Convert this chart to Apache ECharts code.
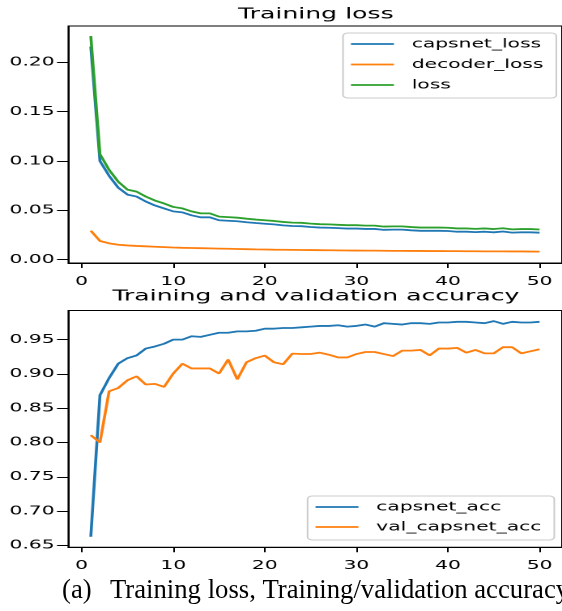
<!DOCTYPE html>
<html>
<head>
<meta charset="utf-8">
<script src="https://cdn.jsdelivr.net/npm/echarts@6/dist/echarts.min.js"></script>
<style>
  html, body { margin: 0; padding: 0; background: #fff; }
  #plots { position: absolute; left: 0; top: 0; width: 347px; height: 611px; transform-origin: 0 0; transform: scaleX(1.6196); }
  #cap { position: absolute; left: 0; top: 0; width: 562px; height: 611px; pointer-events: none; }
</style>
</head>
<body>
<div id="plots"></div>
<div id="cap"></div>
<script>
// ---- data ----
const epochs = [1,2,3,4,5,6,7,8,9,10,11,12,13,14,15,16,17,18,19,20,21,22,23,24,25,26,27,28,29,30,31,32,33,34,35,36,37,38,39,40,41,42,43,44,45,46,47,48,49,50];

const capsnetLoss = [0.216,0.100,0.085,0.073,0.066,0.064,0.059,0.055,0.052,0.049,0.048,0.045,0.043,0.043,0.040,0.0395,0.039,0.038,0.0372,0.0365,0.0358,0.0348,0.0342,0.0340,0.0332,0.0326,0.0324,0.0320,0.0316,0.0316,0.0312,0.0312,0.0303,0.0305,0.0305,0.0298,0.0293,0.0293,0.0293,0.0291,0.0284,0.0284,0.0280,0.0284,0.0278,0.0286,0.0275,0.0278,0.0278,0.0274];
const decoderLoss = [0.0294,0.0190,0.0166,0.0152,0.0145,0.0140,0.0136,0.0132,0.0128,0.0124,0.0121,0.0119,0.0117,0.0115,0.0113,0.0111,0.0109,0.0107,0.0105,0.0104,0.0102,0.0101,0.0100,0.0099,0.0098,0.0097,0.0096,0.0095,0.0094,0.0093,0.0092,0.0092,0.0091,0.0090,0.0090,0.0089,0.0089,0.0088,0.0088,0.0087,0.0087,0.0086,0.0086,0.0085,0.0085,0.0085,0.0084,0.0084,0.0083,0.0082];
const totalLoss = [0.2266,0.107,0.091,0.079,0.071,0.069,0.064,0.060,0.057,0.0535,0.052,0.049,0.047,0.047,0.0437,0.0432,0.0426,0.0416,0.0407,0.0400,0.0393,0.0383,0.0376,0.0374,0.0366,0.0360,0.0358,0.0354,0.0350,0.0350,0.0346,0.0346,0.0336,0.0338,0.0338,0.0331,0.0326,0.0326,0.0326,0.0324,0.0317,0.0317,0.0313,0.0317,0.0311,0.0319,0.0308,0.0311,0.0311,0.0306];

const capsnetAcc = [0.6625,0.869,0.894,0.915,0.923,0.927,0.937,0.940,0.944,0.950,0.950,0.955,0.954,0.957,0.960,0.960,0.962,0.962,0.963,0.966,0.966,0.967,0.967,0.968,0.969,0.970,0.970,0.971,0.969,0.970,0.972,0.969,0.974,0.973,0.972,0.974,0.974,0.973,0.975,0.975,0.976,0.976,0.975,0.974,0.977,0.973,0.976,0.975,0.975,0.976];
const valCapsnetAcc = [0.8106,0.800,0.8747,0.8795,0.8907,0.8965,0.8845,0.8855,0.881,0.9005,0.915,0.908,0.908,0.908,0.9005,0.921,0.892,0.917,0.923,0.9267,0.917,0.914,0.9296,0.929,0.929,0.931,0.928,0.924,0.924,0.929,0.932,0.932,0.929,0.926,0.934,0.934,0.935,0.927,0.937,0.937,0.938,0.931,0.935,0.930,0.930,0.939,0.939,0.930,0.933,0.936];

const xTicks = [0,10,20,30,40,50];
const lossTicks = [0,0.05,0.10,0.15,0.20];
const accTicks = [0.65,0.70,0.75,0.80,0.85,0.90,0.95];

const lossTitle = 'Training loss';
const accTitle = 'Training and validation accuracy';
const captionTag = '(a)';
const captionText = 'Training loss, Training/validation accuracy';

// ---- helpers ----
const pairs = (ys) => epochs.map((e, i) => [e, ys[i]]);
const FONT = 'DejaVu Sans';
const C = { blue: '#1f77b4', orange: '#ff7f0e', green: '#2ca02c' };

function xAxis(gi) {
  return {
    gridIndex: gi, type: 'value', min: -1.45, max: 52.45,
    axisLine: { show: true, onZero: false, lineStyle: { color: '#000', width: 1 } },
    axisTick: { show: true, customValues: xTicks, length: 5, lineStyle: { color: '#000', width: 1 } },
    axisLabel: { customValues: xTicks, margin: 12, fontFamily: FONT, fontSize: 12.5, color: '#000' },
    splitLine: { show: false }
  };
}
function yAxis(gi, min, max, ticks) {
  return {
    gridIndex: gi, type: 'value', min: min, max: max,
    axisLine: { show: true, onZero: false, lineStyle: { color: '#000', width: 1 } },
    axisTick: { show: true, customValues: ticks, length: 7, lineStyle: { color: '#000', width: 1 } },
    axisLabel: { customValues: ticks, margin: 8.5, fontFamily: FONT, fontSize: 12.5, color: '#000',
                 formatter: (v) => Number(v).toFixed(2) },
    splitLine: { show: false }
  };
}
function line(name, ys, color, gi) {
  return {
    name: name, type: 'line', xAxisIndex: gi, yAxisIndex: gi,
    data: pairs(ys), symbol: 'none', smooth: false,
    lineStyle: { color: color, width: 1.8 }, itemStyle: { color: color }
  };
}
function legend(names, left, top, gap) {
  return {
    orient: 'vertical', left: left, top: top, itemWidth: 26.5, itemHeight: 14, itemGap: gap,
    padding: [4, 8, 6, 4], backgroundColor: 'rgba(255,255,255,0.8)',
    borderColor: '#cccccc', borderWidth: 1, borderRadius: 3, selectedMode: false,
    itemStyle: { opacity: 0 },
    lineStyle: { width: 1.8 },
    textStyle: { fontFamily: FONT, fontSize: 12.5, lineHeight: 14, color: '#000', padding: [0, 0, 0, 6] },
    data: names
  };
}

const plots = echarts.init(document.getElementById('plots'), null, { devicePixelRatio: 2 });
plots.setOption({
  animation: false,
  backgroundColor: '#fff',
  grid: [
    { left: 42.2, top: 26, width: 305.7, height: 237, show: true, borderColor: '#000', borderWidth: 1 },
    { left: 42.2, top: 310.5, width: 305.7, height: 236.8, show: true, borderColor: '#000', borderWidth: 1 }
  ],
  xAxis: [xAxis(0), xAxis(1)],
  yAxis: [yAxis(0, -0.0033, 0.2368, lossTicks), yAxis(1, 0.6471, 0.9925, accTicks)],
  legend: [
    legend(['capsnet_loss', 'decoder_loss', 'loss'], 211.8, 33, 6.5),
    legend(['capsnet_acc', 'val_capsnet_acc'], 189.9, 496, 6)
  ],
  graphic: [
    { type: 'text', x: 195, y: 6.5, style: { text: lossTitle, fontFamily: FONT, fontSize: 15.5, fill: '#000', align: 'center', verticalAlign: 'top' } },
    { type: 'text', x: 195, y: 288.5, style: { text: accTitle, fontFamily: FONT, fontSize: 15.5, fill: '#000', align: 'center', verticalAlign: 'top' } }
  ],
  series: [
    line('capsnet_loss', capsnetLoss, C.blue, 0),
    line('decoder_loss', decoderLoss, C.orange, 0),
    line('loss', totalLoss, C.green, 0),
    line('capsnet_acc', capsnetAcc, C.blue, 1),
    line('val_capsnet_acc', valCapsnetAcc, C.orange, 1)
  ]
});

const cap = echarts.init(document.getElementById('cap'));
cap.setOption({
  animation: false,
  graphic: [
    { type: 'text', x: 62, y: 591, style: { text: captionTag, fontFamily: 'Liberation Serif', fontSize: 26.7, fill: '#000', align: 'left', verticalAlign: 'middle' } },
    { type: 'text', x: 110, y: 591, style: { text: captionText, fontFamily: 'Liberation Serif', fontSize: 26.7, fill: '#000', align: 'left', verticalAlign: 'middle' } }
  ]
});
</script>
</body>
</html>
